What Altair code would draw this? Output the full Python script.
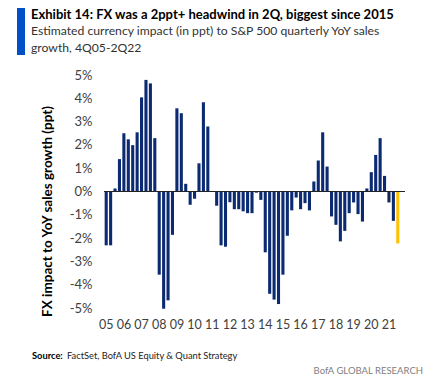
import altair as alt
import pandas as pd

quarters = [
    "4Q05",
    "1Q06", "2Q06", "3Q06", "4Q06",
    "1Q07", "2Q07", "3Q07", "4Q07",
    "1Q08", "2Q08", "3Q08", "4Q08",
    "1Q09", "2Q09", "3Q09", "4Q09",
    "1Q10", "2Q10", "3Q10", "4Q10",
    "1Q11", "2Q11", "3Q11", "4Q11",
    "1Q12", "2Q12", "3Q12", "4Q12",
    "1Q13", "2Q13", "3Q13", "4Q13",
    "1Q14", "2Q14", "3Q14", "4Q14",
    "1Q15", "2Q15", "3Q15", "4Q15",
    "1Q16", "2Q16", "3Q16", "4Q16",
    "1Q17", "2Q17", "3Q17", "4Q17",
    "1Q18", "2Q18", "3Q18", "4Q18",
    "1Q19", "2Q19", "3Q19", "4Q19",
    "1Q20", "2Q20", "3Q20", "4Q20",
    "1Q21", "2Q21", "3Q21", "4Q21",
    "1Q22", "2Q22",
]

fx_impact = [
    -2.31,
    -2.31, 0.13, 1.39, 2.50,
    2.24, 1.99, 2.54, 4.04,
    4.79, 4.64, 2.29, -3.57,
    -5.03, -4.67, -1.86, 3.57,
    3.36, 0.33, -0.57, -0.31,
    1.21, 3.83, 2.79, 0.00,
    -0.61, -2.31, -2.37, -0.46,
    -0.76, -0.76, -0.85, -0.93,
    -0.93, -0.05, -0.36, -2.61,
    -4.39, -4.64, -4.83, -3.57,
    -1.90, -0.81, -0.26, -0.76,
    -0.50, -0.81, 0.43, 1.33,
    2.54, 1.07, -1.07, -1.43,
    -2.14, -1.69, -0.93, -0.47,
    -0.97, -1.29, 0.13, 0.83,
    1.57, 2.29, 0.67, -0.47,
    -1.26, -2.23,
]

year_ticks = [q for q in quarters if q.startswith("4Q")]
y_ticks = [-5, -4, -3, -2, -1, 0, 1, 2, 3, 4, 5]

title_text = "Exhibit 14: FX was a 2ppt+ headwind in 2Q, biggest since 2015"
subtitle_lines = [
    "Estimated currency impact (in ppt) to S&P 500 quarterly YoY sales",
    "growth, 4Q05-2Q22",
]
y_title = "FX impact to YoY sales growth (ppt)"
source_label = "Source:"
source_text = "FactSet, BofA US Equity & Quant Strategy"
brand_text = "BofA GLOBAL RESEARCH"

FONT = "Lato"
W, H = 301, 233

df = pd.DataFrame({"quarter": quarters, "impact": fx_impact})

bar_color = (
    alt.when(alt.datum.quarter == "2Q22").then(alt.value("#FFC000"))
    .when(alt.datum.quarter == "4Q21").then(alt.value("#13284d"))
    .otherwise(alt.value("#0b2a72"))
)


def y_axis():
    return alt.Axis(
        values=y_ticks,
        labelExpr="datum.value + '%'",
        ticks=False,
        domain=False,
        grid=False,
        labelOverlap=False,
        labelPadding=12,
        labelFont=FONT,
        labelFontSize=13,
        labelColor="#404040",
        title=y_title,
        titleFont=FONT,
        titleFontSize=13.5,
        titleFontWeight="bold",
        titleColor="#000000",
        titleAngle=270,
        titleX=-57,
        titleY=136,
        titleAlign="center",
        titleBaseline="middle",
    )


def y_scale():
    return alt.Scale(domain=[-5, 5], nice=False)


bars = alt.Chart(df).mark_bar().encode(
    x=alt.X(
        "quarter:N",
        sort=quarters,
        scale=alt.Scale(range=[0, 296], paddingInner=0.3, paddingOuter=0.15),
        axis=alt.Axis(
            values=year_ticks,
            labelExpr="slice(datum.value, 2)",
            labelAngle=0,
            ticks=False,
            domain=False,
            grid=False,
            labelOverlap=False,
            labelPadding=10,
            labelFont=FONT,
            labelFontSize=12.5,
            labelColor="#404040",
            title=None,
        ),
    ),
    y=alt.Y("impact:Q", scale=y_scale(), axis=y_axis(), title=y_title),
    color=bar_color,
)

zero = alt.Chart(pd.DataFrame({"impact": [0]})).mark_rule(color="#222222", strokeWidth=1.2).encode(
    y=alt.Y("impact:Q", scale=y_scale(), axis=y_axis(), title=y_title),
    x=alt.value(0),
    x2=alt.value(W),
)

accent = alt.Chart(pd.DataFrame({"a": [0]})).mark_rect(color="#0050C8").encode(
    x=alt.value(-87), x2=alt.value(-79), y=alt.value(-72), y2=alt.value(-20)
)


def text_layer(txt, x, y, size, weight="normal", color="#000000", align="left"):
    return alt.Chart(pd.DataFrame({"t": [txt]})).mark_text(
        align=align, baseline="alphabetic", font=FONT, fontSize=size,
        fontWeight=weight, color=color,
    ).encode(text="t:N", x=alt.value(x), y=alt.value(y))


title = text_layer(title_text, -73, -56, 13, "bold")
sub1 = text_layer(subtitle_lines[0], -73, -40, 12.2, color="#333333")
sub2 = text_layer(subtitle_lines[1], -73, -23, 12.2, color="#333333")
src1 = text_layer(source_label, -72, 284, 9.3, "bold")
src2 = text_layer(source_text, -37, 284, 9.3, color="#222222")
brand = text_layer(brand_text, 319, 299, 9.5, color="#808080", align="right")

chart = alt.layer(bars, zero, accent, title, sub1, sub2, src1, src2, brand).properties(
    width=W,
    height=H,
    autosize=alt.AutoSizeParams(type="none"),
    padding={"left": 96, "top": 67, "right": 20, "bottom": 75},
).configure_view(strokeWidth=0)

chart.save("out.html", embed_options={"renderer": "svg", "actions": False})
